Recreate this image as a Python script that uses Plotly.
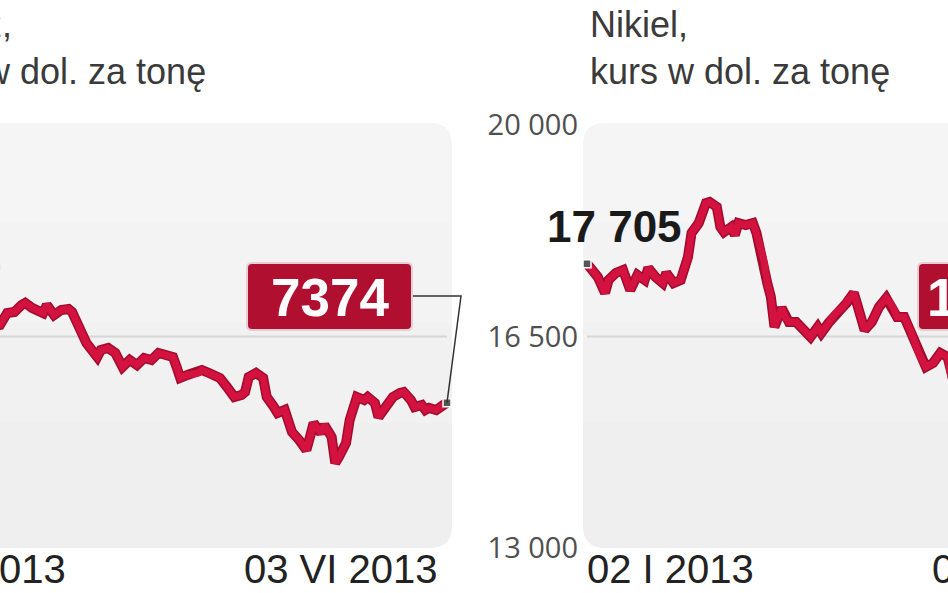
import pandas as pd
import plotly.graph_objects as go

W, H = 948, 593
START = pd.Timestamp("2013-01-02")

# ---------------- data ----------------
# Miedź (copper), USD per tonne; x = days since 02 I 2013
cu_days = [0, 3, 7, 11, 15, 20, 24, 28, 30, 32, 34, 35, 37, 40, 41, 43, 45, 47, 48, 50,
           52, 55, 56, 58, 60, 62, 64, 66, 68, 70, 72, 74, 76, 77, 78, 80, 83, 84, 86, 89,
           91, 93, 95, 96, 97, 99, 101, 102, 104, 105, 107, 108, 109, 111, 113, 114, 115, 117, 118, 120,
           121, 122, 124, 125, 126, 127, 129, 130, 132, 133, 135, 137, 139, 140, 142, 143, 145, 146, 147, 149,
           151, 152]
cu_vals = [8375, 8345, 8203, 8251, 8137, 8175, 8080, 8109, 8222, 8232, 8298, 8317, 8269, 8222, 8298, 8203, 8251, 8260, 8232, 8090,
           7938, 7806, 7872, 7891, 7844, 7712, 7778, 7730, 7797, 7778, 7844, 7825, 7806, 7712, 7608, 7636, 7655, 7683, 7655, 7608,
           7522, 7428, 7447, 7475, 7617, 7655, 7608, 7428, 7333, 7277, 7305, 7182, 7097, 7021, 6927, 7050, 7182, 7087, 7163, 7050,
           6804, 6860, 6993, 7210, 7324, 7428, 7399, 7428, 7371, 7239, 7333, 7428, 7466, 7475, 7399, 7333, 7352, 7305, 7324, 7305,
           7352, 7374]

# Nikiel (nickel), USD per tonne; x = days since 02 I 2013
ni_days = [0, 3, 5, 6, 8, 10, 12, 14, 16, 17, 19, 21, 22, 24, 26, 28, 29, 31, 33, 34,
           36, 37, 38, 40, 41, 42, 44, 46, 47, 49, 50, 51, 52, 54, 55, 56, 58, 60, 62, 64,
           65, 67, 69, 71, 72, 74, 75, 77, 79, 81, 83, 85, 86, 88, 90, 92, 94, 96, 98, 100,
           101, 102, 105]
ni_vals = [17705, 17485, 17220, 17435, 17551, 17600, 17269, 17518, 17435, 17633, 17485, 17385, 17551, 17385, 17435, 17815, 18213, 18378, 18709, 18726,
           18643, 18312, 18229, 18312, 18180, 18378, 18345, 18378, 18213, 17766, 17385, 17154, 16657, 16972, 16823, 16740, 16740, 16607, 16492, 16657,
           16558, 16723, 16889, 16988, 17054, 17220, 17021, 16607, 16740, 16988, 17137, 16972, 16823, 16823, 16558, 16227, 15995, 16061, 16227, 16161,
           15813, 15697, 15780]

assert len(cu_days) == len(cu_vals) and len(ni_days) == len(ni_vals)

titles = ["Miedź,<br>kurs w dol. za tonę", "Nikiel,<br>kurs w dol. za tonę"]
date_labels = ["02 I 2013", "03 VI 2013"]
cu_range = [6000, 10000]
ni_ticks = [13000, 16500, 20000]
ni_ticktext = ["13 000", "16 500", "20 000"]
cu_start_label = "8375"
cu_end_label = "7374"
ni_start_label = "17 705"
ni_end_label = "14 950"

# ---------------- layout helpers ----------------
def X(px):
    return px / W

def Y(py):
    return 1 - py / H

def day(d):
    return START + pd.Timedelta(days=d)

def ds(d):
    return day(d).strftime("%Y-%m-%d %H:%M:%S")

PLOT_TOP, PLOT_BOT = 125, 548
L_PANEL = (-105, 452)
R_PANEL = (583, 1140)
PX_PER_DAY = 548 / 152
L_DATA0 = -101
R_DATA0 = 587

l_dom = [0, X(452)]
r_dom = [X(583), 1.0]
y_dom = [Y(PLOT_BOT), Y(PLOT_TOP)]

l_xr = [(0 - L_DATA0) / PX_PER_DAY, (452 - L_DATA0) / PX_PER_DAY]
r_xr = [(583 - R_DATA0) / PX_PER_DAY, (948 - R_DATA0) / PX_PER_DAY]

def _path(pts, close=True):
    s = ""
    for cmd, ps in pts:
        s += cmd + " " + " ".join(f"{X(a):.5f},{Y(b):.5f}" for a, b in ps) + " "
    return s + ("Z" if close else "")

def rrect(x0, y0, x1, y1, r):
    return _path([
        ("M", [(x0 + r, y0)]), ("L", [(x1 - r, y0)]), ("Q", [(x1, y0), (x1, y0 + r)]),
        ("L", [(x1, y1 - r)]), ("Q", [(x1, y1), (x1 - r, y1)]), ("L", [(x0 + r, y1)]),
        ("Q", [(x0, y1), (x0, y1 - r)]), ("L", [(x0, y0 + r)]), ("Q", [(x0, y0), (x0 + r, y0)]),
    ])

def rrect_bottom(x0, y0, x1, y1, r):
    return _path([
        ("M", [(x0, y0)]), ("L", [(x1, y0)]),
        ("L", [(x1, y1 - r)]), ("Q", [(x1, y1), (x1 - r, y1)]), ("L", [(x0 + r, y1)]),
        ("Q", [(x0, y1), (x0, y1 - r)]),
    ])

def to_paper(d, v, xr, dom, yr):
    px = dom[0] + (d - xr[0]) / (xr[1] - xr[0]) * (dom[1] - dom[0])
    py = y_dom[0] + (v - yr[0]) / (yr[1] - yr[0]) * (y_dom[1] - y_dom[0])
    return px, py

RED = "#d3123f"
RED_DARK = "#a10b2d"
BOLD = "Liberation Sans, Arial, sans-serif"
SANS = "Liberation Sans, Arial, sans-serif"

fig = go.Figure()

cu_x = [day(d) for d in cu_days]
ni_x = [day(d) for d in ni_days]

for xs, ys, xa, ya in [(cu_x, cu_vals, "x", "y"), (ni_x, ni_vals, "x2", "y2")]:
    fig.add_trace(go.Scatter(x=xs, y=ys, xaxis=xa, yaxis=ya, mode="lines",
                             line=dict(color=RED_DARK, width=10), hoverinfo="skip", showlegend=False))
    fig.add_trace(go.Scatter(x=xs, y=ys, xaxis=xa, yaxis=ya, mode="lines",
                             line=dict(color=RED, width=7), showlegend=False))

fig.add_trace(go.Scatter(x=[cu_x[-1]], y=[cu_vals[-1]], xaxis="x", yaxis="y", mode="markers",
                         marker=dict(symbol="square", size=8, color="#555555",
                                     line=dict(color="#ffffff", width=1.5)), showlegend=False))
fig.add_trace(go.Scatter(x=[ni_x[0]], y=[ni_vals[0]], xaxis="x2", yaxis="y2", mode="markers",
                         marker=dict(symbol="square", size=8, color="#555555",
                                     line=dict(color="#ffffff", width=1.5)), showlegend=False))

shapes = []
for (a, b) in [L_PANEL, R_PANEL]:
    shapes.append(dict(type="path", xref="paper", yref="paper", path=rrect(a, PLOT_TOP - 2, b, PLOT_BOT, 22),
                       fillcolor="#f5f5f6", line=dict(width=0), layer="below"))
    for k in range(1, 4):
        top = PLOT_TOP - 2 + k * 100
        shapes.append(dict(type="path", xref="paper", yref="paper",
                           path=rrect_bottom(a, top, b, PLOT_BOT, 22),
                           fillcolor="rgba(80,80,100,0.01)", line=dict(width=0), layer="below"))
shapes.append(dict(type="line", xref="paper", yref="y", x0=0, x1=X(447), y0=8000, y1=8000,
                   line=dict(color="#d6d6d6", width=2), layer="below"))
shapes.append(dict(type="line", xref="paper", yref="y2", x0=X(587), x1=1, y0=16500, y1=16500,
                   line=dict(color="#d6d6d6", width=2), layer="below"))

BOX_FILL = "#b00f30"
shapes.append(dict(type="path", xref="paper", yref="paper", path=rrect(247, 263, 412, 330, 5),
                   fillcolor=BOX_FILL, line=dict(color="#e6cfd3", width=2)))
shapes.append(dict(type="path", xref="paper", yref="paper", path=rrect(918, 263, 1090, 330, 5),
                   fillcolor=BOX_FILL, line=dict(color="#e6cfd3", width=2)))

mx, my = to_paper(cu_days[-1], cu_vals[-1], l_xr, l_dom, cu_range)
shapes.append(dict(type="path", xref="paper", yref="paper",
                   path=f"M {X(413):.5f},{Y(296):.5f} L {X(461):.5f},{Y(296):.5f} L {mx:.5f},{my:.5f}",
                   line=dict(color="#333333", width=1.5)))

annotations = []
annotations.append(dict(xref="paper", yref="paper", x=X(-96), y=Y(2), xanchor="left", yanchor="top",
                        text=titles[0], showarrow=False, align="left",
                        font=dict(family=SANS, size=36, color="#3a3a3a")))
annotations.append(dict(xref="paper", yref="paper", x=X(588), y=Y(2), xanchor="left", yanchor="top",
                        text=titles[1], showarrow=False, align="left",
                        font=dict(family=SANS, size=36, color="#3a3a3a")))
for x0, anchor, txt in [(-103, "left", date_labels[0]), (440, "right", date_labels[1]),
                        (585, "left", date_labels[0]), (1128, "right", date_labels[1])]:
    annotations.append(dict(xref="paper", yref="paper", x=X(x0), y=Y(569), xanchor=anchor, yanchor="middle",
                            text=txt, showarrow=False, font=dict(family=SANS, size=40, color="#222222")))
annotations.append(dict(xref="paper", yref="paper", x=X(329.5), y=Y(297), xanchor="center", yanchor="middle",
                        text=cu_end_label, showarrow=False,
                        font=dict(family=BOLD, size=53, color="#ffffff", weight="bold")))
annotations.append(dict(xref="paper", yref="paper", x=X(925), y=Y(297), xanchor="left", yanchor="middle",
                        text=ni_end_label, showarrow=False,
                        font=dict(family=BOLD, size=53, color="#ffffff", weight="bold")))
annotations.append(dict(xref="paper", yref="paper", x=X(684), y=Y(227), xanchor="right", yanchor="middle",
                        text=ni_start_label, showarrow=False,
                        font=dict(family=BOLD, size=44, color="#1a1a1a", weight="bold")))
annotations.append(dict(xref="paper", yref="paper", x=X(3), y=Y(262), xanchor="right", yanchor="middle",
                        text=cu_start_label, showarrow=False,
                        font=dict(family=BOLD, size=44, color="#1a1a1a", weight="bold")))

fig.update_layout(
    width=W, height=H,
    margin=dict(l=0, r=0, t=0, b=0, pad=0),
    paper_bgcolor="#ffffff", plot_bgcolor="rgba(0,0,0,0)",
    showlegend=False,
    shapes=shapes, annotations=annotations,
    xaxis=dict(domain=l_dom, range=[ds(l_xr[0]), ds(l_xr[1])], type="date",
               visible=False, fixedrange=True),
    yaxis=dict(domain=y_dom, range=cu_range, visible=False, fixedrange=True),
    xaxis2=dict(domain=r_dom, range=[ds(r_xr[0]), ds(r_xr[1])], type="date",
                visible=False, anchor="y2", fixedrange=True),
    yaxis2=dict(domain=y_dom, range=[13000, 20000], anchor="x2",
                tickvals=ni_ticks, ticktext=ni_ticktext, showgrid=False, zeroline=False,
                showline=False, ticks="", ticklabelstandoff=4, automargin=False,
                tickfont=dict(family="Open Sans, Liberation Sans, sans-serif", size=29, color="#505050"),
                fixedrange=True),
)

fig.write_html("out.html", config={"displayModeBar": False},
               post_script="document.body.style.margin='0';document.body.style.overflow='hidden';")
